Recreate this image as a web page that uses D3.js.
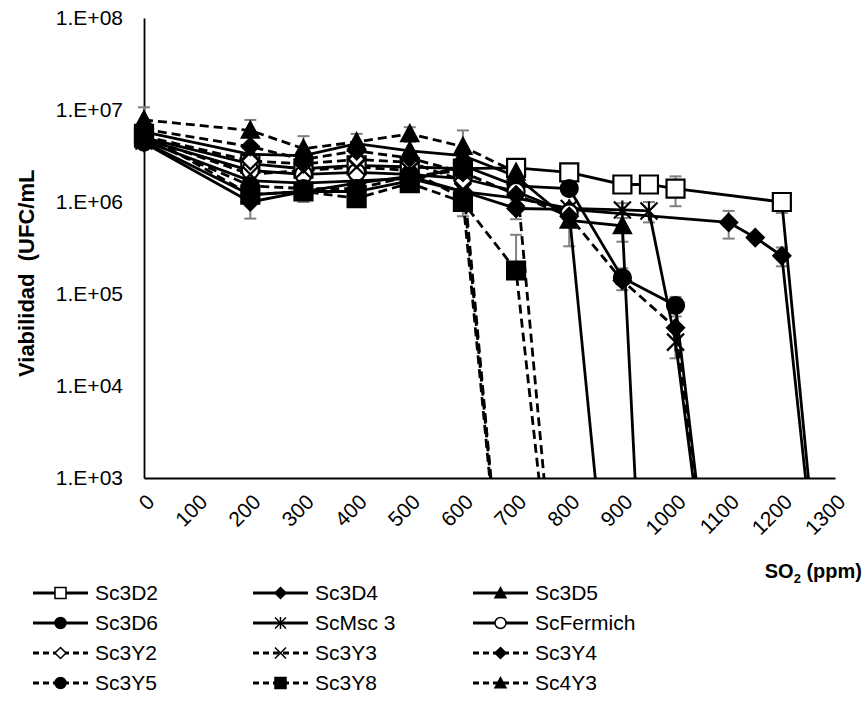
<!DOCTYPE html>
<html>
<head>
<meta charset="utf-8">
<script src="https://cdn.jsdelivr.net/npm/d3@7/dist/d3.min.js"></script>
<style>
  html, body { margin: 0; padding: 0; background: #fff; overflow: hidden; }
  svg { display: block; }
  text { font-family: "Liberation Sans", Arial, sans-serif; fill: #000; }
</style>
</head>
<body>
<svg width="867" height="717"></svg>
<script>
// SO2 doses (ppm); a value of 1 means the count fell below detection (line drops off the axis)
const so2 = [0, 200, 300, 400, 500, 600, 700, 800, 900, 950, 1000, 1100, 1150, 1200, 1300];

const sc3D2     = [5.0e6, 2.6e6, 2.3e6, 2.5e6, 2.4e6, 2.3e6, 2.35e6, 2.1e6, 1.55e6, 1.55e6, 1.4e6, null, null, 1.0e6, 1];
const sc3D4     = [4.4e6, 1.0e6, 1.3e6, 1.6e6, 1.9e6, 1.3e6, 8.5e5, 8.3e5, null, null, null, 6.0e5, 4.1e5, 2.6e5, 1];
const sc3D5     = [5.8e6, 3.3e6, 3.2e6, 4.3e6, 3.6e6, 3.2e6, 1.9e6, 6.3e5, 5.5e5, 1, null, null, null, null, null];
const sc3D6     = [4.5e6, 1.2e6, 1.3e6, 1.3e6, 1.7e6, 2.5e6, 1.5e6, 1.4e6, 1.5e5, null, 7.5e4, 1, null, null, null];
const scMsc3    = [4.6e6, 1.7e6, 1.6e6, 1.7e6, 1.8e6, 1.3e6, 1.1e6, 8.5e5, 8.2e5, 8.0e5, 3.0e4, 1, null, null, null];
const scFermich = [4.8e6, 2.2e6, 2.0e6, 2.1e6, 2.0e6, 1.8e6, 1.3e6, 7.6e5, 1, null, null, null, null, null, null];
const sc3Y2     = [5.2e6, 2.8e6, 2.6e6, 2.9e6, 2.7e6, 1.7e6, 1, null, null, null, null, null, null, null, null];
const sc3Y3     = [5.0e6, 2.0e6, 2.2e6, 2.4e6, 2.2e6, 1.1e6, 1, null, null, null, null, null, null, null, null];
const sc3Y4     = [6.2e6, 4.0e6, 2.9e6, 3.6e6, 3.0e6, 2.1e6, 1.2e6, 7.0e5, 1.4e5, null, 4.3e4, 1, null, null, null];
const sc3Y5     = [4.8e6, 1.5e6, 1.4e6, 1.4e6, 1.9e6, 2.2e6, 1, null, null, null, null, null, null, null, null];
const sc3Y8     = [5.5e6, 1.2e6, 1.3e6, 1.1e6, 1.6e6, 1.0e6, 1.8e5, 1, null, null, null, null, null, null, null];
const sc4Y3     = [7.8e6, 6.0e6, 3.8e6, 4.5e6, 5.5e6, 4.0e6, 2.1e6, 1, null, null, null, null, null, null, null];

// standard deviations (only where the bars can be seen)
const errD2  = [null, null, null, null, null, null, null, null, null, null, 5e5, null, null, 2.4e5, null];
const errD4  = [null, 3.4e5, null, null, 3e5, null, 2e5, null, null, null, null, 2e5, null, 6e4, null];
const errD5  = [null, null, null, null, null, null, null, 3e5, 1.8e5, null, null, null, null, null, null];
const errD6  = [null, null, null, null, null, null, null, null, 4e4, null, 1.8e4, null, null, null, null];
const errMsc = [null, null, null, null, null, null, null, null, 1.5e5, 2e5, 1e4, null, null, null, null];
const errY3  = [null, null, null, null, null, 4e5, null, null, null, null, null, null, null, null, null];
const errY8  = [null, null, 3e5, 2e5, null, null, 2.6e5, null, null, null, null, null, null, null, null];
const errY43 = [2.9e6, 1.8e6, 1.4e6, 1.0e6, 1.0e6, 2.0e6, null, null, null, null, null, null, null, null, null];

const yTicks = [1e3, 1e4, 1e5, 1e6, 1e7, 1e8];
const xTicks = d3.range(0, 1301, 100);

const series = [
  { name: 'Sc3D2',     values: sc3D2,     err: errD2,  dash: false, marker: 'square',   open: true },
  { name: 'Sc3D4',     values: sc3D4,     err: errD4,  dash: false, marker: 'diamond',  open: false },
  { name: 'Sc3D5',     values: sc3D5,     err: errD5,  dash: false, marker: 'triangle', open: false },
  { name: 'Sc3D6',     values: sc3D6,     err: errD6,  dash: false, marker: 'circle',   open: false },
  { name: 'ScMsc 3',   values: scMsc3,    err: errMsc, dash: false, marker: 'star',     open: false },
  { name: 'ScFermich', values: scFermich, err: null,   dash: false, marker: 'circle',   open: true },
  { name: 'Sc3Y2',     values: sc3Y2,     err: null,   dash: true,  marker: 'diamond',  open: true },
  { name: 'Sc3Y3',     values: sc3Y3,     err: errY3,  dash: true,  marker: 'x',        open: true },
  { name: 'Sc3Y4',     values: sc3Y4,     err: null,   dash: true,  marker: 'diamond',  open: false },
  { name: 'Sc3Y5',     values: sc3Y5,     err: null,   dash: true,  marker: 'circle',   open: false },
  { name: 'Sc3Y8',     values: sc3Y8,     err: errY8,  dash: true,  marker: 'square',   open: false },
  { name: 'Sc4Y3',     values: sc4Y3,     err: errY43, dash: true,  marker: 'triangle', open: false }
];

const svg = d3.select('svg');
const margin = { top: 18, left: 144, right: 32, bottom: 239 };
const width = +svg.attr('width');
const height = +svg.attr('height');
const innerWidth = width - margin.left - margin.right;
const innerHeight = height - margin.top - margin.bottom;

const xScale = d3.scaleLinear().domain([0, 1300]).range([0, innerWidth]);
const yScale = d3.scaleLog().domain([1e3, 1e8]).range([innerHeight, 0]);

const g = svg.append('g').attr('transform', `translate(${margin.left},${margin.top})`);

g.append('clipPath').attr('id', 'plot')
  .append('rect').attr('x', -20).attr('y', -20).attr('width', innerWidth + 40).attr('height', innerHeight + 20);

// marker shapes
const markerPath = (type, s) => {
  const h = s / 2;
  if (type === 'square') return `M${-h},${-h}h${s}v${s}h${-s}Z`;
  if (type === 'diamond') return `M0,${-h}L${h},0L0,${h}L${-h},0Z`;
  if (type === 'triangle') return `M0,${-h}L${h},${h * 0.85}L${-h},${h * 0.85}Z`;
  if (type === 'circle') return `M${-h},0A${h},${h} 0 1,0 ${h},0A${h},${h} 0 1,0 ${-h},0Z`;
  if (type === 'x') return `M${-h},${-h}L${h},${h}M${-h},${h}L${h},${-h}`;
  if (type === 'star') return `M${-h},${-h}L${h},${h}M${-h},${h}L${h},${-h}M0,${-h * 1.1}L0,${h * 1.1}`;
};
const markerSize = { square: 18, diamond: 17, triangle: 17, circle: 17, x: 15, star: 17 };

const points = s => so2.map((x, i) => ({ x, y: s.values[i], e: s.err ? s.err[i] : null }))
  .filter(d => d.y !== null);

// axes
const yAxis = d3.axisLeft(yScale).tickValues(yTicks).tickSize(0).tickPadding(21)
  .tickFormat(d => '1.E+0' + Math.round(Math.log10(d)));
const yAxisG = g.append('g').call(yAxis);
yAxisG.select('.domain').attr('stroke', '#000').attr('stroke-width', 1.8);
yAxisG.selectAll('text').attr('font-size', 21);

const xAxis = d3.axisBottom(xScale).tickValues(xTicks).tickSize(0).tickPadding(0)
  .tickFormat(d3.format('d'));
const xAxisG = g.append('g').attr('transform', `translate(0,${innerHeight})`).call(xAxis);
xAxisG.select('.domain').attr('stroke', '#000').attr('stroke-width', 1.8);
xAxisG.selectAll('text')
  .attr('font-size', 21)
  .attr('text-anchor', 'end')
  .attr('dy', '0.35em')
  .attr('transform', 'translate(6,20) rotate(-45)');

// error bars
const errG = g.append('g').attr('clip-path', 'url(#plot)');
series.forEach(s => {
  points(s).filter(d => d.e).forEach(d => {
    const cx = xScale(d.x);
    const top = yScale(d.y + d.e);
    const bot = d.y - d.e > 0 ? yScale(d.y - d.e) : yScale(d.y);
    errG.append('line').attr('x1', cx).attr('x2', cx).attr('y1', top).attr('y2', bot)
      .attr('stroke', '#808080').attr('stroke-width', 2);
    [top, d.y - d.e > 0 ? bot : null].forEach(yy => {
      if (yy === null) return;
      errG.append('line').attr('x1', cx - 6).attr('x2', cx + 6).attr('y1', yy).attr('y2', yy)
        .attr('stroke', '#808080').attr('stroke-width', 2);
    });
  });
});

// lines
const line = d3.line().x(d => xScale(d.x)).y(d => yScale(d.y));
const linesG = g.append('g').attr('clip-path', 'url(#plot)');
series.forEach(s => {
  linesG.append('path')
    .datum(points(s))
    .attr('d', line)
    .attr('fill', 'none')
    .attr('stroke', '#000')
    .attr('stroke-width', 2.8)
    .attr('stroke-dasharray', s.dash ? '9,5' : null);
});

// markers
const markG = g.append('g').attr('clip-path', 'url(#plot)');
series.forEach(s => {
  markG.selectAll(null).data(points(s).filter(d => d.y >= 1e3))
    .enter().append('path')
      .attr('transform', d => `translate(${xScale(d.x)},${yScale(d.y)})`)
      .attr('d', markerPath(s.marker, markerSize[s.marker]))
      .attr('fill', s.open ? '#fff' : '#000')
      .attr('stroke', '#000')
      .attr('stroke-width', 2.2);
});

// y axis title
svg.append('text')
  .attr('transform', 'translate(34,377) rotate(-90)')
  .attr('font-size', 22)
  .attr('font-weight', 'bold')
  .attr('xml:space', 'preserve')
  .style('white-space', 'pre')
  .text('Viabilidad  (UFC/mL');

// x axis title
const xTitle = svg.append('text')
  .attr('x', 862).attr('y', 578)
  .attr('text-anchor', 'end')
  .attr('font-size', 20)
  .attr('font-weight', 'bold');
xTitle.append('tspan').text('SO');
xTitle.append('tspan').attr('font-size', 13).attr('dy', 5).text('2');
xTitle.append('tspan').attr('dy', -5).text(' (ppm)');

// legend
const legend = svg.append('g');
const colX = [33, 253, 473];
const rowY = [593, 623, 653, 683];
series.forEach((s, i) => {
  const lx = colX[i % 3];
  const ly = rowY[Math.floor(i / 3)];
  const item = legend.append('g').attr('transform', `translate(${lx},${ly})`);
  item.append('line').attr('x1', 0).attr('x2', 55).attr('y1', 0).attr('y2', 0)
    .attr('stroke', '#000').attr('stroke-width', 2.8)
    .attr('stroke-dasharray', s.dash ? '6,4' : null);
  item.append('path')
    .attr('transform', 'translate(27.5,0)')
    .attr('d', markerPath(s.marker, 11))
    .attr('fill', s.open ? '#fff' : '#000')
    .attr('stroke', '#000').attr('stroke-width', 1.5);
  item.append('text').attr('x', 62).attr('dy', '0.35em')
    .attr('font-size', 21).text(s.name);
});
</script>
</body>
</html>
